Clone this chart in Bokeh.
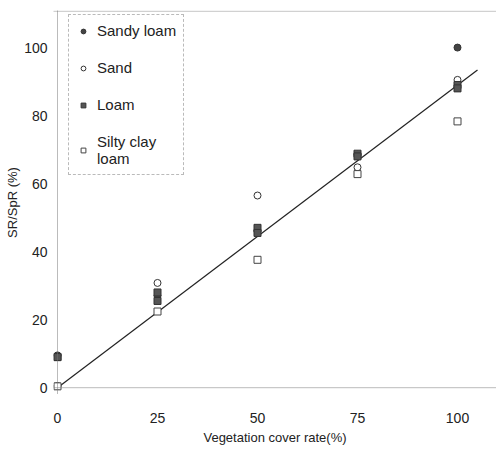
from bokeh.plotting import figure
from bokeh.models import Span, Legend, LegendItem, FixedTicker
from bokeh.embed import file_html
from bokeh.resources import INLINE

# Data
cover = [0, 25, 50, 75, 100]
sandy_loam = [9.5, 27, 46, 68.5, 100]
sand = [0.5, 30.8, 56.5, 64.8, 90.5]
loam = [9.0, 25.5, 47, 68.8, 89.0]
loam_rep = [9.0, 28.0, 45.5, 68.0, 88.0]
silty_clay_loam = [0.4, 22.4, 37.6, 62.8, 78.3]
fit_x = [0, 105]
fit_y = [0, 93.4]
x_ticks = [0, 25, 50, 75, 100]
y_ticks = [0, 20, 40, 60, 80, 100]

FONT = "Liberation Sans"

p = figure(width=496, height=455, output_backend="svg", toolbar_location=None,
           x_range=(-1, 109.75), y_range=(-2, 110.9),
           min_border_left=53, min_border_right=0, min_border_top=10, min_border_bottom=61)
p.outline_line_color = None
p.grid.visible = False
p.background_fill_color = "white"
p.border_fill_color = "white"

for ax in (p.xaxis[0], p.yaxis[0]):
    ax.axis_line_color = None
    ax.major_tick_line_color = None
    ax.minor_tick_line_color = None
    ax.major_tick_out = 0
    ax.major_tick_in = 0
    ax.minor_tick_out = 0
    ax.minor_tick_in = 0
    ax.major_label_text_font = FONT
    ax.major_label_text_font_size = "14px"
    ax.major_label_text_color = "#222222"
    ax.axis_label_text_font = FONT
    ax.axis_label_text_font_style = "normal"
    ax.axis_label_text_color = "#222222"

p.xaxis.ticker = FixedTicker(ticks=x_ticks)
p.yaxis.ticker = FixedTicker(ticks=y_ticks)
p.xaxis.major_label_standoff = 18
p.yaxis.major_label_standoff = 6
p.xaxis.axis_label = "Vegetation cover rate(%)"
p.xaxis.axis_label_text_font_size = "13px"
p.xaxis.axis_label_standoff = 4
p.yaxis.axis_label = "SR/SpR (%)"
p.yaxis.axis_label_text_font_size = "13px"
p.yaxis.axis_label_standoff = 1

p.add_layout(Span(location=0, dimension="height", line_color="#777777", line_width=1, line_dash="1 1"))
p.add_layout(Span(location=0, dimension="width", line_color="#777777", line_width=1, line_dash="1 1"))
p.add_layout(Span(location=110.7, dimension="width", line_color="#777777", line_width=1, line_dash="1 1"))

p.line(fit_x, fit_y, line_color="#222222", line_width=1.2)

r_sl = p.scatter(cover, sandy_loam, marker="circle", size=7, fill_color="#444444", line_color="#333333")
r_s = p.scatter(cover, sand, marker="circle", size=7, fill_color="white", line_color="#333333", line_width=1)
r_l = p.scatter(cover, loam, marker="square", size=7, fill_color="#555555", line_color="#333333")
p.scatter(cover, loam_rep, marker="square", size=7, fill_color="#555555", line_color="#333333")
r_sc = p.scatter(cover, silty_clay_loam, marker="square", size=7, fill_color="white", line_color="#444444", line_width=1)

legend = Legend(items=[
    LegendItem(label="Sandy loam", renderers=[r_sl]),
    LegendItem(label="Sand", renderers=[r_s]),
    LegendItem(label="Loam", renderers=[r_l]),
    LegendItem(label="Silty clay\nloam", renderers=[r_sc]),
], location=(15, 219))
legend.label_text_font = FONT
legend.label_text_font_size = "15px"
legend.label_text_color = "#222222"
legend.border_line_color = "#777777"
legend.border_line_dash = "1 1"
legend.background_fill_alpha = 1
legend.spacing = 20
legend.label_height = 17
legend.glyph_width = 14
legend.glyph_height = 12
legend.label_standoff = 7
legend.padding = 7
legend.margin = 0
p.add_layout(legend)

open("out.html", "w").write(file_html(p, INLINE))
